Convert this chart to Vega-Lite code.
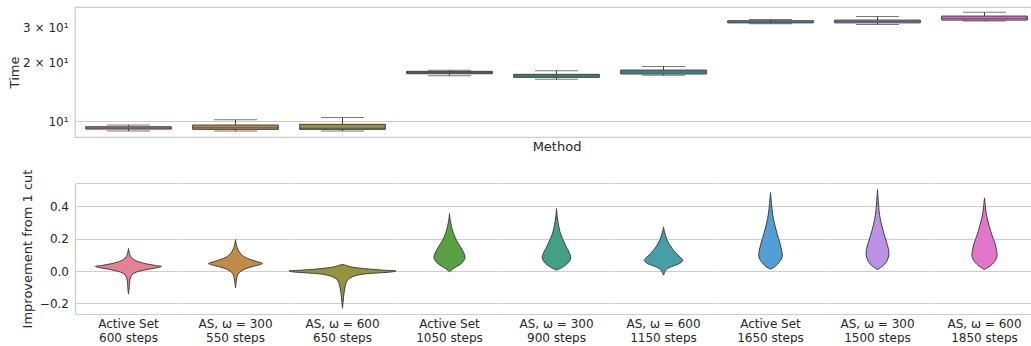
{
  "$schema": "https://vega.github.io/schema/vega-lite/v6.json",
  "padding": {"left": 7, "top": 6, "right": 0, "bottom": 0},
  "spacing": 15,
  "datasets": {
    "boxes": [
      {"method": "Active Set|600 steps", "lo": 8.89, "q1": 9.10, "med": 9.22, "q3": 9.35, "hi": 9.54},
      {"method": "AS, ω = 300|550 steps", "lo": 8.89, "q1": 9.07, "med": 9.25, "q3": 9.54, "hi": 10.15},
      {"method": "AS, ω = 600|650 steps", "lo": 8.89, "q1": 9.07, "med": 9.2, "q3": 9.62, "hi": 10.44},
      {"method": "Active Set|1050 steps", "lo": 17.02, "q1": 17.43, "med": 17.7, "q3": 17.93, "hi": 18.14},
      {"method": "AS, ω = 300|900 steps", "lo": 16.32, "q1": 16.71, "med": 17.0, "q3": 17.31, "hi": 18.06},
      {"method": "AS, ω = 600|1150 steps", "lo": 17.11, "q1": 17.38, "med": 17.8, "q3": 18.2, "hi": 19.01},
      {"method": "Active Set|1650 steps", "lo": 31.35, "q1": 31.7, "med": 32.0, "q3": 32.5, "hi": 33.0},
      {"method": "AS, ω = 300|1500 steps", "lo": 31.13, "q1": 31.7, "med": 32.2, "q3": 32.75, "hi": 34.2},
      {"method": "AS, ω = 600|1850 steps", "lo": 32.37, "q1": 32.75, "med": 33.5, "q3": 34.34, "hi": 35.87}
    ],
    "violins": [
      {"method": "Active Set|600 steps", "v": 0.140, "left": 0, "right": 0},
      {"method": "Active Set|600 steps", "v": 0.109, "left": -0.009, "right": 0.009},
      {"method": "Active Set|600 steps", "v": 0.088, "left": -0.023, "right": 0.023},
      {"method": "Active Set|600 steps", "v": 0.072, "left": -0.047, "right": 0.047},
      {"method": "Active Set|600 steps", "v": 0.058, "left": -0.093, "right": 0.093},
      {"method": "Active Set|600 steps", "v": 0.045, "left": -0.168, "right": 0.168},
      {"method": "Active Set|600 steps", "v": 0.035, "left": -0.252, "right": 0.252},
      {"method": "Active Set|600 steps", "v": 0.029, "left": -0.308, "right": 0.308},
      {"method": "Active Set|600 steps", "v": 0.023, "left": -0.280, "right": 0.280},
      {"method": "Active Set|600 steps", "v": 0.012, "left": -0.187, "right": 0.187},
      {"method": "Active Set|600 steps", "v": 0.000, "left": -0.103, "right": 0.103},
      {"method": "Active Set|600 steps", "v": -0.014, "left": -0.047, "right": 0.047},
      {"method": "Active Set|600 steps", "v": -0.031, "left": -0.023, "right": 0.023},
      {"method": "Active Set|600 steps", "v": -0.056, "left": -0.012, "right": 0.012},
      {"method": "Active Set|600 steps", "v": -0.097, "left": -0.007, "right": 0.007},
      {"method": "Active Set|600 steps", "v": -0.142, "left": 0, "right": 0},

      {"method": "AS, ω = 300|550 steps", "v": 0.195, "left": 0, "right": 0},
      {"method": "AS, ω = 300|550 steps", "v": 0.160, "left": -0.009, "right": 0.009},
      {"method": "AS, ω = 300|550 steps", "v": 0.134, "left": -0.023, "right": 0.023},
      {"method": "AS, ω = 300|550 steps", "v": 0.109, "left": -0.047, "right": 0.047},
      {"method": "AS, ω = 300|550 steps", "v": 0.088, "left": -0.084, "right": 0.084},
      {"method": "AS, ω = 300|550 steps", "v": 0.072, "left": -0.140, "right": 0.140},
      {"method": "AS, ω = 300|550 steps", "v": 0.058, "left": -0.206, "right": 0.206},
      {"method": "AS, ω = 300|550 steps", "v": 0.047, "left": -0.252, "right": 0.252},
      {"method": "AS, ω = 300|550 steps", "v": 0.039, "left": -0.224, "right": 0.224},
      {"method": "AS, ω = 300|550 steps", "v": 0.027, "left": -0.150, "right": 0.150},
      {"method": "AS, ω = 300|550 steps", "v": 0.012, "left": -0.084, "right": 0.084},
      {"method": "AS, ω = 300|550 steps", "v": -0.004, "left": -0.042, "right": 0.042},
      {"method": "AS, ω = 300|550 steps", "v": -0.025, "left": -0.019, "right": 0.019},
      {"method": "AS, ω = 300|550 steps", "v": -0.056, "left": -0.009, "right": 0.009},
      {"method": "AS, ω = 300|550 steps", "v": -0.103, "left": 0, "right": 0},

      {"method": "AS, ω = 600|650 steps", "v": 0.041, "left": 0, "right": 0},
      {"method": "AS, ω = 600|650 steps", "v": 0.035, "left": -0.037, "right": 0.037},
      {"method": "AS, ω = 600|650 steps", "v": 0.027, "left": -0.075, "right": 0.075},
      {"method": "AS, ω = 600|650 steps", "v": 0.016, "left": -0.196, "right": 0.196},
      {"method": "AS, ω = 600|650 steps", "v": 0.006, "left": -0.383, "right": 0.383},
      {"method": "AS, ω = 600|650 steps", "v": 0.001, "left": -0.500, "right": 0.500},
      {"method": "AS, ω = 600|650 steps", "v": -0.004, "left": -0.467, "right": 0.467},
      {"method": "AS, ω = 600|650 steps", "v": -0.010, "left": -0.355, "right": 0.355},
      {"method": "AS, ω = 600|650 steps", "v": -0.019, "left": -0.187, "right": 0.187},
      {"method": "AS, ω = 600|650 steps", "v": -0.035, "left": -0.093, "right": 0.093},
      {"method": "AS, ω = 600|650 steps", "v": -0.056, "left": -0.047, "right": 0.047},
      {"method": "AS, ω = 600|650 steps", "v": -0.086, "left": -0.028, "right": 0.028},
      {"method": "AS, ω = 600|650 steps", "v": -0.138, "left": -0.014, "right": 0.014},
      {"method": "AS, ω = 600|650 steps", "v": -0.230, "left": 0, "right": 0},

      {"method": "Active Set|1050 steps", "v": 0.356, "left": 0, "right": 0},
      {"method": "Active Set|1050 steps", "v": 0.315, "left": -0.007, "right": 0.007},
      {"method": "Active Set|1050 steps", "v": 0.274, "left": -0.019, "right": 0.019},
      {"method": "Active Set|1050 steps", "v": 0.233, "left": -0.037, "right": 0.037},
      {"method": "Active Set|1050 steps", "v": 0.191, "left": -0.065, "right": 0.065},
      {"method": "Active Set|1050 steps", "v": 0.150, "left": -0.103, "right": 0.103},
      {"method": "Active Set|1050 steps", "v": 0.109, "left": -0.136, "right": 0.136},
      {"method": "Active Set|1050 steps", "v": 0.084, "left": -0.145, "right": 0.145},
      {"method": "Active Set|1050 steps", "v": 0.058, "left": -0.126, "right": 0.126},
      {"method": "Active Set|1050 steps", "v": 0.037, "left": -0.089, "right": 0.089},
      {"method": "Active Set|1050 steps", "v": 0.021, "left": -0.047, "right": 0.047},
      {"method": "Active Set|1050 steps", "v": 0.006, "left": -0.017, "right": 0.017},
      {"method": "Active Set|1050 steps", "v": -0.004, "left": 0, "right": 0},

      {"method": "AS, ω = 300|900 steps", "v": 0.387, "left": 0, "right": 0},
      {"method": "AS, ω = 300|900 steps", "v": 0.335, "left": -0.007, "right": 0.007},
      {"method": "AS, ω = 300|900 steps", "v": 0.284, "left": -0.019, "right": 0.019},
      {"method": "AS, ω = 300|900 steps", "v": 0.243, "left": -0.033, "right": 0.033},
      {"method": "AS, ω = 300|900 steps", "v": 0.202, "left": -0.056, "right": 0.056},
      {"method": "AS, ω = 300|900 steps", "v": 0.160, "left": -0.084, "right": 0.084},
      {"method": "AS, ω = 300|900 steps", "v": 0.119, "left": -0.117, "right": 0.117},
      {"method": "AS, ω = 300|900 steps", "v": 0.088, "left": -0.133, "right": 0.133},
      {"method": "AS, ω = 300|900 steps", "v": 0.062, "left": -0.121, "right": 0.121},
      {"method": "AS, ω = 300|900 steps", "v": 0.037, "left": -0.084, "right": 0.084},
      {"method": "AS, ω = 300|900 steps", "v": 0.021, "left": -0.047, "right": 0.047},
      {"method": "AS, ω = 300|900 steps", "v": 0.006, "left": 0, "right": 0},

      {"method": "AS, ω = 600|1150 steps", "v": 0.274, "left": 0, "right": 0},
      {"method": "AS, ω = 600|1150 steps", "v": 0.243, "left": -0.009, "right": 0.009},
      {"method": "AS, ω = 600|1150 steps", "v": 0.212, "left": -0.023, "right": 0.023},
      {"method": "AS, ω = 600|1150 steps", "v": 0.181, "left": -0.042, "right": 0.042},
      {"method": "AS, ω = 600|1150 steps", "v": 0.150, "left": -0.070, "right": 0.070},
      {"method": "AS, ω = 600|1150 steps", "v": 0.119, "left": -0.107, "right": 0.107},
      {"method": "AS, ω = 600|1150 steps", "v": 0.088, "left": -0.154, "right": 0.154},
      {"method": "AS, ω = 600|1150 steps", "v": 0.068, "left": -0.180, "right": 0.180},
      {"method": "AS, ω = 600|1150 steps", "v": 0.051, "left": -0.159, "right": 0.159},
      {"method": "AS, ω = 600|1150 steps", "v": 0.035, "left": -0.103, "right": 0.103},
      {"method": "AS, ω = 600|1150 steps", "v": 0.023, "left": -0.056, "right": 0.056},
      {"method": "AS, ω = 600|1150 steps", "v": 0.010, "left": -0.028, "right": 0.028},
      {"method": "AS, ω = 600|1150 steps", "v": -0.004, "left": -0.014, "right": 0.014},
      {"method": "AS, ω = 600|1150 steps", "v": -0.025, "left": 0, "right": 0},

      {"method": "Active Set|1650 steps", "v": 0.486, "left": 0, "right": 0},
      {"method": "Active Set|1650 steps", "v": 0.418, "left": -0.009, "right": 0.009},
      {"method": "Active Set|1650 steps", "v": 0.356, "left": -0.019, "right": 0.019},
      {"method": "Active Set|1650 steps", "v": 0.294, "left": -0.037, "right": 0.037},
      {"method": "Active Set|1650 steps", "v": 0.233, "left": -0.061, "right": 0.061},
      {"method": "Active Set|1650 steps", "v": 0.171, "left": -0.089, "right": 0.089},
      {"method": "Active Set|1650 steps", "v": 0.119, "left": -0.107, "right": 0.107},
      {"method": "Active Set|1650 steps", "v": 0.088, "left": -0.109, "right": 0.109},
      {"method": "Active Set|1650 steps", "v": 0.058, "left": -0.084, "right": 0.084},
      {"method": "Active Set|1650 steps", "v": 0.031, "left": -0.047, "right": 0.047},
      {"method": "Active Set|1650 steps", "v": 0.012, "left": 0, "right": 0},

      {"method": "AS, ω = 300|1500 steps", "v": 0.504, "left": 0, "right": 0},
      {"method": "AS, ω = 300|1500 steps", "v": 0.438, "left": -0.007, "right": 0.007},
      {"method": "AS, ω = 300|1500 steps", "v": 0.377, "left": -0.014, "right": 0.014},
      {"method": "AS, ω = 300|1500 steps", "v": 0.315, "left": -0.028, "right": 0.028},
      {"method": "AS, ω = 300|1500 steps", "v": 0.253, "left": -0.051, "right": 0.051},
      {"method": "AS, ω = 300|1500 steps", "v": 0.191, "left": -0.079, "right": 0.079},
      {"method": "AS, ω = 300|1500 steps", "v": 0.140, "left": -0.101, "right": 0.101},
      {"method": "AS, ω = 300|1500 steps", "v": 0.099, "left": -0.106, "right": 0.106},
      {"method": "AS, ω = 300|1500 steps", "v": 0.058, "left": -0.084, "right": 0.084},
      {"method": "AS, ω = 300|1500 steps", "v": 0.031, "left": -0.047, "right": 0.047},
      {"method": "AS, ω = 300|1500 steps", "v": 0.010, "left": 0, "right": 0},

      {"method": "AS, ω = 600|1850 steps", "v": 0.453, "left": 0, "right": 0},
      {"method": "AS, ω = 600|1850 steps", "v": 0.397, "left": -0.009, "right": 0.009},
      {"method": "AS, ω = 600|1850 steps", "v": 0.346, "left": -0.019, "right": 0.019},
      {"method": "AS, ω = 600|1850 steps", "v": 0.284, "left": -0.042, "right": 0.042},
      {"method": "AS, ω = 600|1850 steps", "v": 0.222, "left": -0.070, "right": 0.070},
      {"method": "AS, ω = 600|1850 steps", "v": 0.171, "left": -0.098, "right": 0.098},
      {"method": "AS, ω = 600|1850 steps", "v": 0.130, "left": -0.112, "right": 0.112},
      {"method": "AS, ω = 600|1850 steps", "v": 0.093, "left": -0.117, "right": 0.117},
      {"method": "AS, ω = 600|1850 steps", "v": 0.058, "left": -0.093, "right": 0.093},
      {"method": "AS, ω = 600|1850 steps", "v": 0.031, "left": -0.051, "right": 0.051},
      {"method": "AS, ω = 600|1850 steps", "v": 0.010, "left": 0, "right": 0}
    ]
  },
  "vconcat": [
    {
      "width": 963,
      "height": 130,
      "data": {"name": "boxes"},
      "view": {"stroke": "#cccccc", "strokeWidth": 1.25},
      "encoding": {
        "x": {
          "field": "method", "type": "nominal",
          "sort": ["Active Set|600 steps", "AS, ω = 300|550 steps", "AS, ω = 600|650 steps", "Active Set|1050 steps", "AS, ω = 300|900 steps", "AS, ω = 600|1150 steps", "Active Set|1650 steps", "AS, ω = 300|1500 steps", "AS, ω = 600|1850 steps"],
          "scale": {"paddingInner": 0, "paddingOuter": 0},
          "axis": {"title": "Method", "labels": false, "ticks": false, "domain": false, "grid": false, "titlePadding": 3}
        }
      },
      "layer": [
        {
          "mark": {"type": "rule", "color": "#3f3f3f", "strokeWidth": 1},
          "encoding": {
            "y": {"field": "lo", "type": "quantitative",
              "scale": {"type": "log", "domain": [8.29, 38.2], "nice": false},
              "axis": {
                "title": "Time", "values": [10, 20, 30],
                "labelExpr": "datum.value == 10 ? '10¹' : datum.value == 20 ? '2 × 10¹' : '3 × 10¹'",
                "grid": true,
                "gridOpacity": {"condition": {"test": "datum.value == 10", "value": 1}, "value": 0},
                "domain": false, "ticks": false, "labelPadding": 7, "titlePadding": 1.5
              }
            },
            "y2": {"field": "hi"}
          }
        },
        {
          "mark": {"type": "tick", "orient": "horizontal", "size": 43, "thickness": 1, "color": "#3f3f3f"},
          "encoding": {"y": {"field": "lo", "type": "quantitative"}}
        },
        {
          "mark": {"type": "tick", "orient": "horizontal", "size": 43, "thickness": 1, "color": "#3f3f3f"},
          "encoding": {"y": {"field": "hi", "type": "quantitative"}}
        },
        {
          "mark": {"type": "bar", "width": {"band": 0.8}, "stroke": "#3f3f3f", "strokeWidth": 1},
          "encoding": {
            "y": {"field": "q1", "type": "quantitative"},
            "y2": {"field": "q3"},
            "color": {
              "field": "method", "type": "nominal", "legend": null,
              "scale": {
                "domain": ["Active Set|600 steps", "AS, ω = 300|550 steps", "AS, ω = 600|650 steps", "Active Set|1050 steps", "AS, ω = 300|900 steps", "AS, ω = 600|1150 steps", "Active Set|1650 steps", "AS, ω = 300|1500 steps", "AS, ω = 600|1850 steps"],
                "range": ["#e68193", "#c18a46", "#969340", "#58a141", "#449f89", "#479ea6", "#519fd6", "#bb91e6", "#e376ca"]
              }
            }
          }
        },
        {
          "mark": {"type": "tick", "orient": "horizontal", "size": 86, "thickness": 1, "color": "#3f3f3f"},
          "encoding": {"y": {"field": "med", "type": "quantitative"}}
        }
      ]
    },
    {
      "data": {"name": "violins"},
      "bounds": "flush",
      "spacing": {"row": 0, "column": 0},
      "facet": {
        "column": {
          "field": "method", "type": "nominal",
          "sort": ["Active Set|600 steps", "AS, ω = 300|550 steps", "AS, ω = 600|650 steps", "Active Set|1050 steps", "AS, ω = 300|900 steps", "AS, ω = 600|1150 steps", "Active Set|1650 steps", "AS, ω = 300|1500 steps", "AS, ω = 600|1850 steps"],
          "header": {
            "title": null, "labelOrient": "bottom",
            "labelExpr": "split(datum.value, '|')",
            "labelFont": "DejaVu Sans", "labelFontSize": 12, "labelColor": "#262626",
            "labelPadding": 5, "labelLineHeight": 14
          }
        }
      },
      "spec": {
        "width": 107,
        "height": 131,
        "view": {"stroke": null},
        "mark": {"type": "area", "orient": "horizontal", "interpolate": "catmull-rom", "stroke": "#3f3f3f", "strokeWidth": 1},
        "encoding": {
          "y": {
            "field": "v", "type": "quantitative",
            "scale": {"domain": [-0.265, 0.545], "nice": false, "zero": false},
            "axis": {
              "title": "Improvement from 1 cut", "values": [-0.265, -0.2, 0, 0.2, 0.4, 0.545],
              "labelExpr": "datum.value < -0.25 || datum.value > 0.5 ? '' : format(datum.value, '.1f')",
              "domain": true, "ticks": false, "labelPadding": 6.5, "titlePadding": 5, "grid": true
            }
          },
          "x": {"field": "left", "type": "quantitative", "stack": null,
            "scale": {"domain": [-0.5, 0.5], "nice": false}, "axis": null},
          "x2": {"field": "right"},
          "color": {"field": "method", "type": "nominal", "legend": null}
        }
      }
    }
  ],
  "config": {
    "font": "DejaVu Sans",
    "view": {"stroke": null},
    "facet": {"spacing": 0},
    "axis": {
      "labelFont": "DejaVu Sans", "labelFontSize": 12, "labelColor": "#262626",
      "titleFont": "DejaVu Sans", "titleFontSize": 13, "titleFontWeight": "normal", "titleColor": "#262626",
      "gridColor": "#cccccc", "gridWidth": 1, "domainColor": "#cccccc", "domainWidth": 1.25,
      "ticks": false, "tickSize": 0
    }
  }
}
